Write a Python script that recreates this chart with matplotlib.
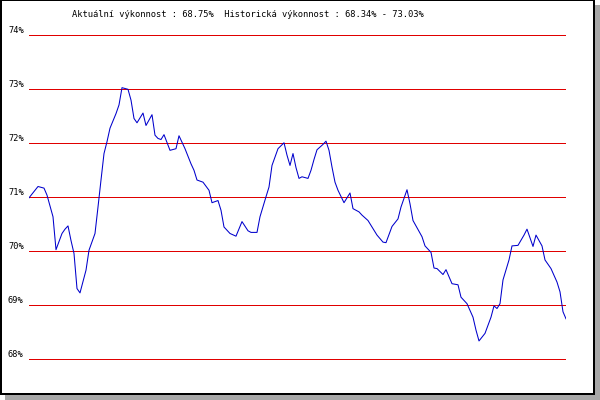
import matplotlib
matplotlib.use("Agg")
import matplotlib.pyplot as plt
import matplotlib.transforms as mtransforms
from matplotlib.patches import Rectangle

# ---------------- data ----------------
days = [0, 3, 5, 6, 8, 9, 11, 12, 13, 14, 15, 16, 17, 19, 20, 22, 23, 24, 25, 26,
        27, 29, 30, 31, 33, 34, 35, 36, 38, 39, 41, 42, 43, 44, 45, 47, 49, 50, 52, 54,
        55, 56, 58, 60, 61, 63, 64, 65, 67, 69, 71, 73, 74, 76, 77, 79, 80, 81, 83, 85,
        86, 87, 88, 89, 90, 91, 93, 94, 95, 96, 98, 99, 100, 101, 102, 103, 105, 107, 108, 110,
        111, 113, 114, 116, 118, 119, 121, 123, 124, 126, 127, 128, 131, 132, 134, 135, 136, 138, 139, 141,
        143, 144, 146, 148, 149, 150, 152, 154, 155, 156, 157, 158, 160, 161, 163, 165, 166, 168, 169, 171,
        172, 174, 176, 177, 178, 179]
perf = [70.99, 71.20, 71.17, 71.04, 70.64, 70.03, 70.33, 70.41, 70.47, 70.20, 69.96, 69.31, 69.23, 69.65, 70.02, 70.33, 70.82, 71.32, 71.81, 72.03,
        72.28, 72.55, 72.71, 73.03, 73.00, 72.80, 72.46, 72.38, 72.56, 72.33, 72.53, 72.15, 72.09, 72.07, 72.16, 71.87, 71.90, 72.14, 71.90, 71.62,
        71.50, 71.32, 71.28, 71.13, 70.90, 70.94, 70.76, 70.45, 70.33, 70.28, 70.55, 70.38, 70.35, 70.35, 70.64, 71.01, 71.19, 71.59, 71.90, 72.01,
        71.78, 71.59, 71.81, 71.55, 71.35, 71.38, 71.35, 71.50, 71.70, 71.88, 71.98, 72.04, 71.87, 71.56, 71.28, 71.13, 70.90, 71.08, 70.79, 70.73,
        70.67, 70.57, 70.48, 70.30, 70.17, 70.16, 70.46, 70.60, 70.82, 71.14, 70.88, 70.57, 70.27, 70.10, 69.98, 69.69, 69.68, 69.57, 69.66, 69.40,
        69.38, 69.15, 69.03, 68.78, 68.54, 68.34, 68.48, 68.78, 68.99, 68.94, 69.03, 69.47, 69.84, 70.10, 70.11, 70.30, 70.41, 70.09, 70.30, 70.10,
        69.84, 69.68, 69.43, 69.25, 68.88, 68.75]
grid_levels = [68, 69, 70, 71, 72, 73, 74]
title_text = "Aktuální výkonnost : 68.75%  Historická výkonnost : 68.34% - 73.03%"

W, H = 600, 400
fig = plt.figure(figsize=(6, 4), dpi=100)
fig.patch.set_facecolor("white")

# axes spans pixel x 29..566, y 30..365 (from top)
ax = fig.add_axes([29 / W, 35 / H, 537 / W, 335 / H])
ax.set_xlim(0, 179)
ax.set_ylim(68 - 5.7 / 54, 74 + 5.3 / 54)
ax.axis("off")

for lv in grid_levels:
    ax.axhline(lv, color="#e00000", lw=0.6, antialiased=False, zorder=1)

ax.plot(days, perf, color="#0000cc", lw=0.75, antialiased=True, zorder=2)

# y labels on the left, sitting just above each line
trans = mtransforms.blended_transform_factory(fig.transFigure, ax.transData)
for lv in grid_levels:
    fig.text(8 / W, lv + 2.5 / 54, f"{lv}%", transform=trans, fontsize=6.2,
             family="DejaVu Sans Mono", ha="left", va="baseline")

fig.text(72 / W, 1 - 17 / H, title_text, fontsize=6.3, family="DejaVu Sans Mono",
         ha="left", va="baseline")

# frame with drop shadow
def px_rect(x0, y0, x1, y1, color):
    fig.patches.append(Rectangle((x0 / W, 1 - y1 / H), (x1 - x0) / W, (y1 - y0) / H,
                                 transform=fig.transFigure, facecolor=color,
                                 edgecolor="none", zorder=5))

px_rect(5, 395, 600, 400, "#a8a8a8")
px_rect(595, 5, 600, 400, "#a8a8a8")
px_rect(0, 0, 2, 395, "black")
px_rect(0, 0, 595, 1, "black")
px_rect(593, 0, 595, 395, "black")
px_rect(0, 393, 595, 395, "black")

fig.savefig("out.png", dpi=100)
